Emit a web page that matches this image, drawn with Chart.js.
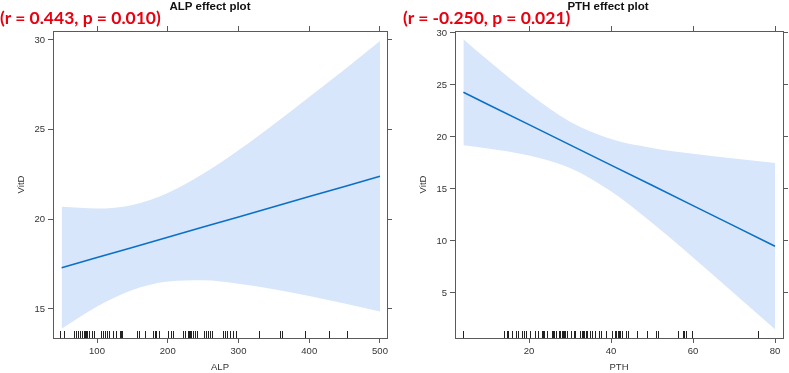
<!DOCTYPE html>
<html lang="en">

<head>
    <meta charset="UTF-8">
    <title>Effect plots</title>
    <script src="https://cdn.jsdelivr.net/npm/chart.js"></script>
    <style>
        body {
            margin: 0;
            background: #fff;
            width: 789px;
            height: 373px;
            position: relative;
            overflow: hidden;
            font-family: "Liberation Sans", Arial, sans-serif;
        }

        .painel {
            position: absolute;
            top: 0;
            height: 373px;
        }

        #painelAlp { left: 0; width: 395px; }
        #painelPth { left: 395px; width: 394px; }

        .titulo {
            position: absolute;
            top: 0;
            font-weight: bold;
            font-size: 11.5px;
            line-height: 13px;
            color: #111;
            transform: translateX(-50%);
            white-space: nowrap;
        }

        .correlacao {
            position: absolute;
            top: 7px;
            font-family: Lato, "Open Sans", sans-serif;
            font-weight: bold;
            font-size: 17.5px;
            line-height: 22px;
            color: #e8000f;
            white-space: nowrap;
        }
    </style>
</head>

<body>
    <div class="painel" id="painelAlp"><canvas id="graficoAlp" width="395" height="373"></canvas></div>
    <div class="painel" id="painelPth"><canvas id="graficoPth" width="394" height="373"></canvas></div>

    <div class="titulo" style="left:210px">ALP effect plot</div>
    <div class="titulo" style="left:608px">PTH effect plot</div>
    <div class="correlacao" style="left:0px">(r = 0.443, p = 0.010)</div>
    <div class="correlacao" style="left:403px">(r = -0.250, p = 0.021)</div>
</body>

</html>

<script>
    // ALP
    const alpGrade = [50, 100, 150, 200, 250, 300, 350, 400, 450, 500];
    const alpAjuste = [17.30, 17.87, 18.43, 19.00, 19.57, 20.13, 20.70, 21.27, 21.83, 22.40];
    const alpSuperior = [20.70, 20.60, 20.80, 21.47, 22.54, 23.85, 25.30, 26.82, 28.36, 29.94];
    const alpInferior = [13.90, 15.14, 16.06, 16.53, 16.60, 16.41, 16.10, 15.72, 15.30, 14.86];
    const alpRug = [47, 48, 53, 67.5, 70, 73, 76, 79, 81, 83, 84, 86, 89, 93, 96, 105, 108, 111, 114, 116.5,
        123, 127, 132.5, 133.5, 134.5, 136, 156, 160, 168, 179, 181.5, 184, 188, 200, 204, 208,
        221, 224, 228, 229.5, 231.5, 233, 236, 238, 241, 251, 254, 257, 260, 263, 278.6, 281.5, 284,
        288, 292, 296, 329.6, 358, 361.5, 394.6, 428.6, 453];
    const alpTicksX = [100, 200, 300, 400, 500];
    const alpTicksY = [15, 20, 25, 30];

    // PTH
    const pthGrade = [4, 10, 20, 30, 40, 50, 60, 70, 80];
    const pthAjuste = [24.30, 23.13, 21.19, 19.24, 17.29, 15.35, 13.40, 11.45, 9.50];
    const pthSuperior = [29.40, 27.37, 24.17, 21.47, 19.81, 18.95, 18.38, 17.93, 17.50];
    const pthInferior = [19.20, 18.89, 18.21, 17.01, 14.77, 11.75, 8.42, 4.97, 1.50];
    const pthRug = [3.8, 13.8, 14.6, 14.95, 15.9, 16.75, 17.4, 18.4, 18.9, 19.2, 20.2, 21.5, 22.1, 23.1,
        23.4, 23.7, 24.4, 25.5, 25.9, 26.2, 26.5, 27.3, 27.6, 28.0, 28.3, 28.6, 28.9, 29.3, 30.2,
        30.9, 31.2, 32.5, 32.9, 33.2, 33.5, 33.8, 34.1, 34.8, 35.4, 36.1, 37.1, 37.6, 38.9, 40.3,
        41.0, 41.3, 41.6, 42.0, 42.3, 42.6, 43.6, 44.2, 46.3, 48.8, 51.0, 51.4, 56.4, 57.6, 57.9,
        58.2, 59.7, 75.8];
    const pthTicksX = [20, 40, 60, 80];
    const pthTicksY = [5, 10, 15, 20, 25, 30];

    const corBanda = '#d7e6fa';
    const corLinha = '#0b6fc6';
    const corEixo = '#5a5a5a';
    const corTexto = '#333';
    const fonteEixo = { family: '"Liberation Sans", Arial, sans-serif', size: 9.5 };

    function pontos(grade, valores) {
        return grade.map(function (x, i) { return { x: x, y: valores[i] }; });
    }

    // marcas de rug na base do painel
    function criarRug(valores) {
        return {
            id: 'rug',
            afterDatasetsDraw(chart) {
                const ctx = chart.ctx;
                const escala = chart.scales.x;
                const area = chart.chartArea;
                ctx.save();
                ctx.strokeStyle = '#222';
                ctx.lineWidth = 1;
                valores.forEach(function (v) {
                    const px = Math.round(escala.getPixelForValue(v)) + 0.5;
                    ctx.beginPath();
                    ctx.moveTo(px, area.bottom);
                    ctx.lineTo(px, area.bottom - 7);
                    ctx.stroke();
                });
                ctx.restore();
            }
        };
    }

    function eixo(posicao, min, max, ticks, tamanho, titulo, padTitulo) {
        const horizontal = posicao === 'top' || posicao === 'bottom';
        return {
            type: 'linear',
            axis: horizontal ? 'x' : 'y',
            position: posicao,
            min: min,
            max: max,
            afterBuildTicks: function (s) { s.ticks = ticks.map(function (v) { return { value: v }; }); },
            afterFit: function (s) { if (horizontal) s.height = tamanho; else s.width = tamanho; },
            grid: { drawOnChartArea: false, drawTicks: true, tickLength: 5, color: corEixo },
            border: { display: true, color: corEixo, width: 1 },
            ticks: { display: !!titulo, font: fonteEixo, color: corTexto, padding: 3, maxRotation: 0 },
            title: titulo ? { display: true, text: titulo, font: fonteEixo, color: corTexto, padding: { top: padTitulo, bottom: 0 } } : { display: false }
        };
    }

    function montarGrafico(id, c) {
        const config = {
            type: 'line',
            data: {
                datasets: [
                    // linha ajustada primeiro (order menor = desenhada por cima)
                    { data: pontos(c.grade, c.ajuste), borderColor: corLinha, borderWidth: 1.6, pointRadius: 0, fill: false, order: 0 },
                    { data: pontos(c.grade, c.superior), borderWidth: 0, pointRadius: 0, fill: '+1', backgroundColor: corBanda, cubicInterpolationMode: 'monotone', order: 1 },
                    { data: pontos(c.grade, c.inferior), borderWidth: 0, pointRadius: 0, fill: false, cubicInterpolationMode: 'monotone', order: 2 }
                ]
            },
            options: {
                responsive: false,
                animation: false,
                devicePixelRatio: 1,
                layout: { padding: 0 },
                plugins: { legend: { display: false }, tooltip: { enabled: false } },
                scales: {
                    x: eixo('bottom', c.xMin, c.xMax, c.ticksX, 35, c.nomeX, 0),
                    xTopo: eixo('top', c.xMin, c.xMax, c.ticksX, 31),
                    y: eixo('left', c.yMin, c.yMax, c.ticksY, c.largEsq, 'VitD', c.padY),
                    yDir: eixo('right', c.yMin, c.yMax, c.ticksY, c.largDir)
                }
            },
            plugins: [criarRug(c.rug)]
        };
        return new Chart(document.getElementById(id), config);
    }

    montarGrafico('graficoAlp', {
        grade: alpGrade, ajuste: alpAjuste, superior: alpSuperior, inferior: alpInferior, rug: alpRug,
        ticksX: alpTicksX, ticksY: alpTicksY, nomeX: 'ALP',
        xMin: 37.8, xMax: 509.9, yMin: 13.38, yMax: 30.5,
        largEsq: 53, largDir: 8, padY: 16
    });

    montarGrafico('graficoPth', {
        grade: pthGrade, ajuste: pthAjuste, superior: pthSuperior, inferior: pthInferior, rug: pthRug,
        ticksX: pthTicksX, ticksY: pthTicksY, nomeX: 'PTH',
        xMin: 1.95, xMax: 81.95, yMin: 0.67, yMax: 30.19,
        largEsq: 60, largDir: 6, padY: 23
    });
</script>
